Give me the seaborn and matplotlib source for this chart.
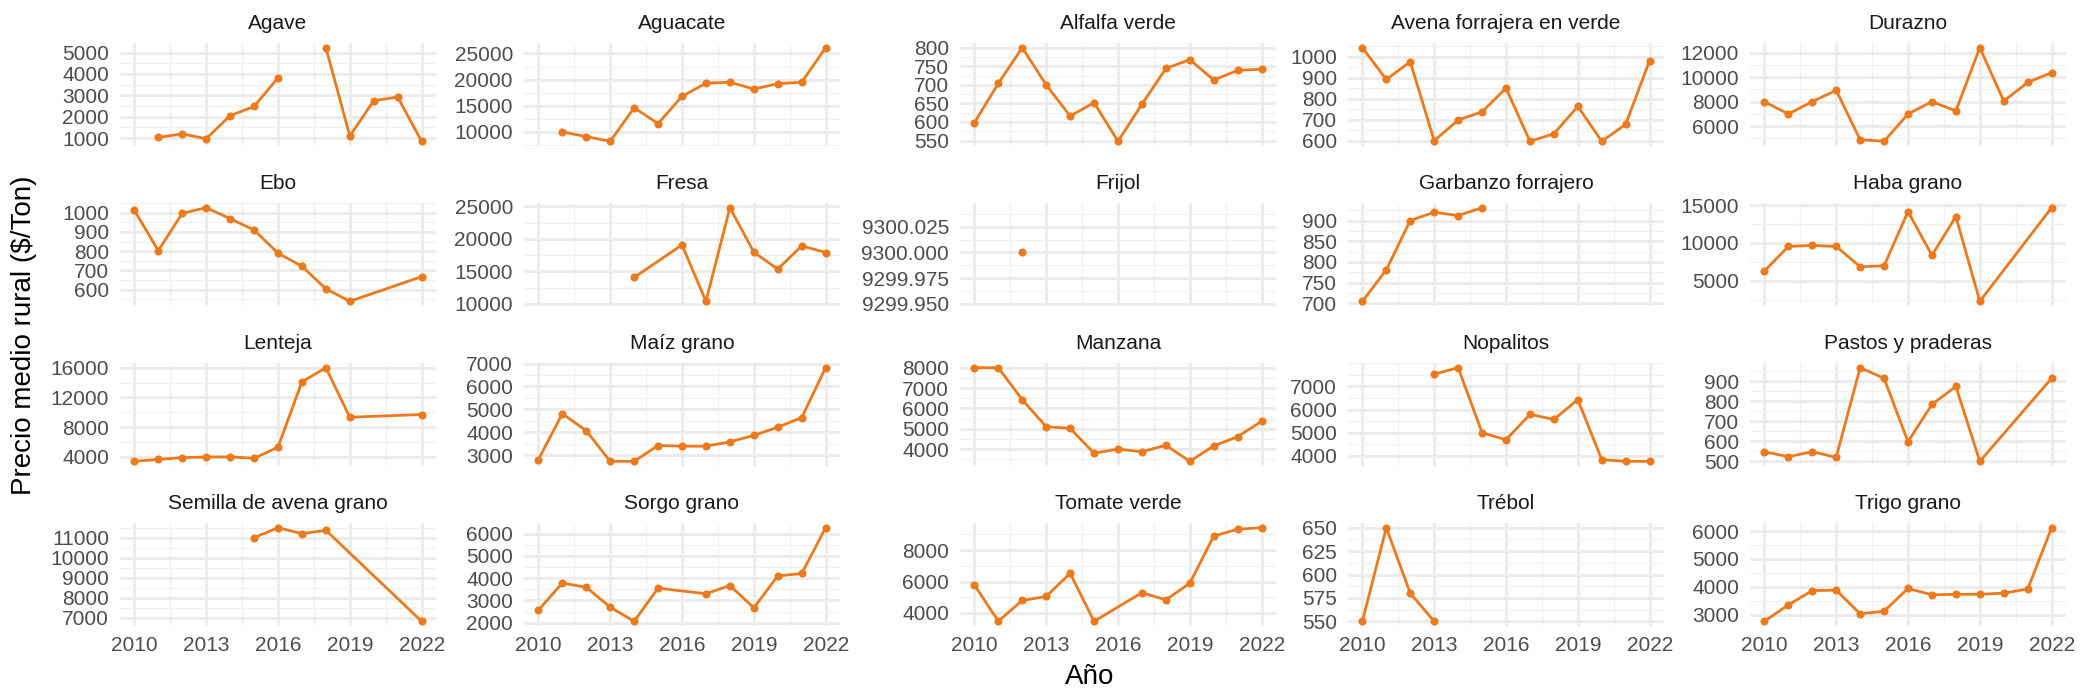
import numpy as np
import pandas as pd
import matplotlib
matplotlib.use("Agg")
import matplotlib.pyplot as plt
import seaborn as sns
from matplotlib.ticker import FixedLocator, AutoMinorLocator, FuncFormatter

# ---------------- data ----------------
years = list(range(2010, 2023))
N = np.nan

crops = ["Agave", "Aguacate", "Alfalfa verde", "Avena forrajera en verde", "Durazno",
         "Ebo", "Fresa", "Frijol", "Garbanzo forrajero", "Haba grano",
         "Lenteja", "Maíz grano", "Manzana", "Nopalitos", "Pastos y praderas",
         "Semilla de avena grano", "Sorgo grano", "Tomate verde", "Trébol", "Trigo grano"]

agave = [N, 1030, 1200, 970, 2050, 2480, 3820, N, 5230, 1100, 2750, 2920, 850]
aguacate = [N, 10000, 9100, 8200, 14600, 11600, 16800, 19300, 19500, 18200, 19200, 19500, 26100]
alfalfa = [598, 704, 800, 700, 616, 652, 548, 648, 744, 768, 713, 739, 742]
avena = [1042, 891, 975, 600, 698, 737, 850, 597, 633, 763, 597, 678, 981]
durazno = [8000, 7000, 8000, 8930, 4900, 4770, 7000, 8000, 7250, 12400, 8050, 9570, 10370]
ebo = [1012, 803, 997, 1026, 969, 910, 790, 722, 605, 540, N, N, 668]
fresa = [N, N, N, N, 14080, N, 19080, 10410, 24800, 17960, 15360, 18930, 17910]
frijol = [N, N, 9300.0, N, N, N, N, N, N, N, N, N, N]
garbanzo = [705, 781, 900, 920, 912, 931, N, N, N, N, N, N, N]
haba = [6260, 9520, 9650, 9520, 6830, 6960, 14130, 8350, 13480, 2260, N, N, 14650]
lenteja = [3400, 3650, 3900, 3980, 4000, 3800, 5300, 14100, 16000, 9330, N, N, 9700]
maiz = [2800, 4810, 4070, 2730, 2730, 3420, 3390, 3390, 3580, 3860, 4220, 4640, 6820]
manzana = [8000, 8000, 6430, 5100, 5020, 3800, 4000, 3870, 4190, 3400, 4160, 4610, 5370]
nopalitos = [N, N, N, 7530, 7810, 5000, 4690, 5790, 5570, 6430, 3830, 3760, 3760]
pastos = [548, 523, 548, 520, 969, 916, 598, 785, 875, 500, N, N, 916]
semilla = [N, N, N, N, N, 11000, 11500, 11200, 11370, N, N, N, 6820]
sorgo = [2560, 3780, 3590, 2700, 2060, 3550, N, 3300, 3670, 2670, 4100, 4210, 6270]
tomate = [5790, 3480, 4800, 5050, 6530, 3470, N, 5290, 4840, 5890, 8900, 9330, 9430]
trebol = [550, 650, 580, 550, N, N, N, N, N, N, N, N, N]
trigo = [2760, 3350, 3860, 3880, 3030, 3120, 3940, 3710, 3730, 3730, 3770, 3920, 6120]

series = [agave, aguacate, alfalfa, avena, durazno, ebo, fresa, frijol, garbanzo, haba,
          lenteja, maiz, manzana, nopalitos, pastos, semilla, sorgo, tomate, trebol, trigo]

# years recorded as missing (the line is broken there rather than joined)
line_breaks = {"Agave": [2017]}

# tick labels
x_ticks = [2010, 2013, 2016, 2019, 2022]
y_ticks = [
    [1000, 2000, 3000, 4000, 5000],
    [10000, 15000, 20000, 25000],
    [550, 600, 650, 700, 750, 800],
    [600, 700, 800, 900, 1000],
    [6000, 8000, 10000, 12000],
    [600, 700, 800, 900, 1000],
    [10000, 15000, 20000, 25000],
    [9299.950, 9299.975, 9300.000, 9300.025],
    [700, 750, 800, 850, 900],
    [5000, 10000, 15000],
    [4000, 8000, 12000, 16000],
    [3000, 4000, 5000, 6000, 7000],
    [4000, 5000, 6000, 7000, 8000],
    [4000, 5000, 6000, 7000],
    [500, 600, 700, 800, 900],
    [7000, 8000, 9000, 10000, 11000],
    [2000, 3000, 4000, 5000, 6000],
    [4000, 6000, 8000],
    [550, 575, 600, 625, 650],
    [3000, 4000, 5000, 6000],
]

rows = []
for crop, vals in zip(crops, series):
    brk = line_breaks.get(crop, [])
    for y, v in zip(years, vals):
        seg = sum(1 for b in brk if y > b)
        rows.append({"cultivo": crop, "anio": y, "precio": v, "seg": seg})
df = pd.DataFrame(rows).dropna()

# ---------------- style ----------------
sns.set_theme(style="white")
plt.rcParams["font.family"] = ["Liberation Sans", "DejaVu Sans"]

LINE = "#EC7A1C"
TICK_C = "#4D4D4D"
GRID_C = "#EBEBEB"

W, H = 2083, 698
fig = plt.figure(figsize=(W / 100, H / 100), dpi=100)

col_left = [120, 524, 960, 1348, 1750]
panel_w = 316
row_top = [43, 203, 363, 523]
panel_h = 103

for i, crop in enumerate(crops):
    r, c = divmod(i, 5)
    ax = fig.add_axes([col_left[c] / W, 1 - (row_top[r] + panel_h) / H,
                       panel_w / W, panel_h / H])
    sub = df[df["cultivo"] == crop]
    sns.lineplot(data=sub, x="anio", y="precio", units="seg", estimator=None,
                 ax=ax, color=LINE, linewidth=2.0, marker="o", markersize=5.8,
                 markeredgewidth=0)
    ax.set_xlim(2010 - 0.6, 2022 + 0.6)
    if crop == "Frijol":
        ax.set_ylim(9299.948, 9300.048)
        fmt = FuncFormatter(lambda v, p: f"{v:.3f}")
    else:
        fmt = FuncFormatter(lambda v, p: f"{v:.0f}")
        lo, hi = sub["precio"].min(), sub["precio"].max()
        pad = (hi - lo) * 0.05
        ax.set_ylim(lo - pad, hi + pad)
    ax.yaxis.set_major_locator(FixedLocator(y_ticks[i]))
    ax.yaxis.set_major_formatter(fmt)
    ax.yaxis.set_minor_locator(AutoMinorLocator(2))
    ax.xaxis.set_major_locator(FixedLocator(x_ticks))
    ax.xaxis.set_minor_locator(FixedLocator([2011.5, 2014.5, 2017.5, 2020.5]))
    ax.grid(True, which="major", color=GRID_C, linewidth=2.0)
    ax.grid(True, which="minor", color="#F1F1F1", linewidth=1.0)
    ax.set_axisbelow(True)
    for s in ax.spines.values():
        s.set_visible(False)
    ax.tick_params(axis="both", which="both", length=0, labelsize=15,
                   labelcolor=TICK_C)
    ax.tick_params(axis="y", pad=8)
    ax.tick_params(axis="x", pad=7)
    if r < 3:
        ax.set_xticklabels([])
    ax.set_xlabel("")
    ax.set_ylabel("")
    ax.set_title(crop, fontsize=15, color="#1A1A1A", pad=10)

fig.text(1090 / W, 1 - 677 / H, "Año", fontsize=20, ha="center", va="center",
         color="black")
fig.text(24 / W, 1 - 335 / H, "Precio medio rural ($/Ton)", fontsize=20,
         rotation=90, ha="center", va="center", color="black")

fig.savefig("out.png", dpi=100, facecolor="white")
